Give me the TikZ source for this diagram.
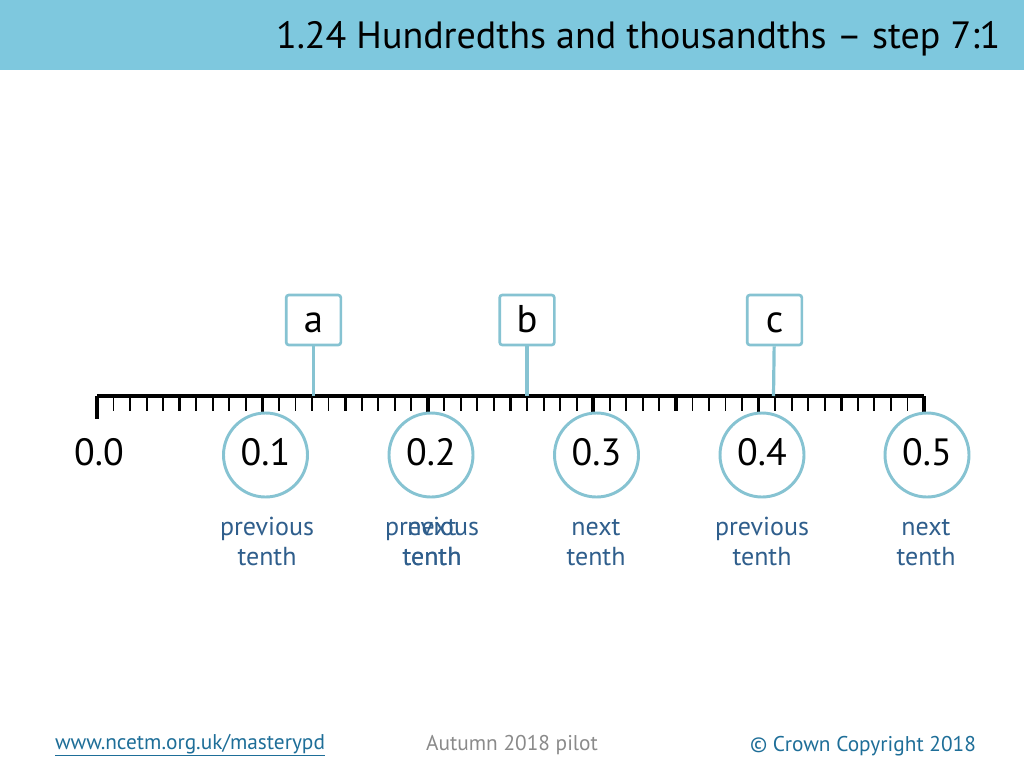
\documentclass[tikz,border=0pt]{standalone}
\usepackage{fontspec}
\setmainfont{PT Sans}
\usetikzlibrary{positioning,shadows}

\definecolor{headblue}{HTML}{7EC8DE}
\definecolor{ringblue}{HTML}{86C3D2}
\definecolor{labelblue}{HTML}{2F5E8C}
\definecolor{linkblue}{HTML}{1E6E98}
\definecolor{pilotgrey}{HTML}{8A8A8A}

\begin{document}
\begin{tikzpicture}[
    x=0.75pt, y=-0.75pt,
    numtext/.style={
        font=\fontsize{28.5}{30}\selectfont,
        text height=15pt,
        text depth=0pt
    },
    numcircle/.style={
        numtext,
        circle,
        draw=ringblue,
        line width=2.2pt,
        fill=white,
        minimum size=63pt,
        inner sep=0pt,
        drop shadow={opacity=0.18, shadow xshift=0.8pt, shadow yshift=-0.8pt}
    },
    letterbox/.style={
        rectangle,
        rounded corners=2pt,
        draw=ringblue,
        line width=2pt,
        fill=white,
        minimum width=41pt,
        minimum height=37.5pt,
        text height=18pt,
        text depth=0pt,
        font=\fontsize{29}{30}\selectfont
    },
    pointer/.style={
        draw=ringblue,
        line width=2.4pt
    },
    tenthlabel/.style={
        anchor=base,
        align=center,
        text=labelblue,
        font=\fontsize{19.5}{22.5}\selectfont
    },
    footnote/.style={
        font=\fontsize{16}{18}\selectfont
    }
]

\useasboundingbox (0,0) rectangle (1024,768);

% =========================================================
% Header
% =========================================================
\fill[headblue] (0,0) rectangle (1024,70);
\node[anchor=base east, font=\fontsize{28.5}{32}\selectfont] (title) at (1005,48)
{1.24 Hundredths and thousandths -- step 7:1};

% =========================================================
% Number line with hundredth ticks
% =========================================================
\coordinate (lstart) at (97,396);
\coordinate (lend) at (924,396);
\foreach \i in {0,...,50}{
    \pgfmathsetmacro{\tx}{97+\i*16.54}
    \pgfmathtruncatemacro{\r}{mod(\i,10)}
    \ifnum\r=0
        \draw[line width=2.6pt] (\tx,396) -- (\tx,419);
    \else\ifnum\r=5
        \draw[line width=2.4pt] (\tx,396) -- (\tx,411);
    \else
        \draw[line width=1.4pt] (\tx,396) -- (\tx,411);
    \fi\fi
}
\draw[line width=3pt] (lstart) -- (lend);

% =========================================================
% Tenths
% =========================================================
\node[numtext] (n0) at (99,455) {0.0};
\node[numcircle] (n1) at (265.5,455) {0.1};
\node[numcircle] (n2) at (431,455) {0.2};
\node[numcircle] (n3) at (596.5,455) {0.3};
\node[numcircle] (n4) at (762,455) {0.4};
\node[numcircle] (n5) at (927,455) {0.5};

\node[tenthlabel] (lab1) at (267,565) {previous\\tenth};
\node[tenthlabel] (lab2a) at (432,565) {previous\\tenth};
\node[tenthlabel] (lab2b) at (432,565) {next\\tenth};
\node[tenthlabel] (lab3) at (596,565) {next\\tenth};
\node[tenthlabel] (lab4) at (762,565) {previous\\tenth};
\node[tenthlabel] (lab5) at (926,565) {next\\tenth};

% =========================================================
% Unknowns a, b, c
% =========================================================
\node[letterbox] (boxa) at (313.5,320) {a};
\node[letterbox] (boxb) at (527,320) {b};
\node[letterbox] (boxc) at (774.5,320) {c};

\coordinate (pa) at (313.5,396);
\coordinate (pb) at (527,396);
\coordinate (pc) at (773.5,396);

\draw[pointer] (boxa) -- (pa);
\draw[pointer] (boxb) -- (pb);
\draw[pointer] (boxc) -- (pc);

% =========================================================
% Footer
% =========================================================
\node[footnote, text=linkblue] (link) at (190,745) {\underline{www.ncetm.org.uk/masterypd}};
\node[footnote, text=pilotgrey] (pilot) at (512,745) {Autumn 2018 pilot};
\node[footnote, text=linkblue] (copy) at (863,746) {\textcopyright\ Crown Copyright 2018};

\end{tikzpicture}
\end{document}
